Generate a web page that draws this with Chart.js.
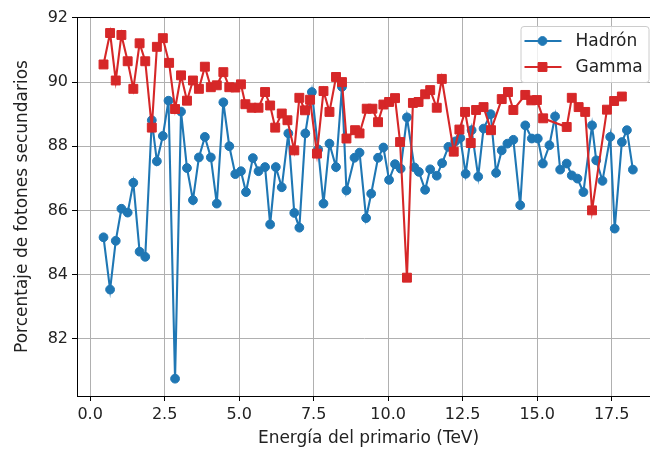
<!DOCTYPE html>
<html>
<head>
<meta charset="utf-8">
<script src="https://cdn.jsdelivr.net/npm/chart.js@4.4.0/dist/chart.umd.min.js"></script>
<style>
    html, body { margin: 0; padding: 0; background: #fff; }
    #wrap { width: 650px; height: 454px; overflow: hidden; }
</style>
</head>
<body>
<div id="wrap"><canvas id="chart" width="650" height="454"></canvas></div>
<script>
// energies (TeV) and percentages
const energiaHadron = [0.45, 0.67, 0.86, 1.05, 1.26, 1.45, 1.66, 1.85, 2.07, 2.24,
    2.44, 2.63, 2.85, 3.05, 3.25, 3.45, 3.65, 3.85, 4.05, 4.25,
    4.47, 4.67, 4.87, 5.06, 5.23, 5.46, 5.65, 5.87, 6.04, 6.23,
    6.43, 6.65, 6.85, 7.02, 7.22, 7.44, 7.65, 7.83, 8.03, 8.25,
    8.45, 8.6, 8.87, 9.04, 9.26, 9.43, 9.66, 9.84, 10.03, 10.23,
    10.42, 10.63, 10.88, 11.03, 11.24, 11.41, 11.63, 11.81, 12.02, 12.25,
    12.42, 12.6, 12.8, 13.02, 13.2, 13.44, 13.62, 13.81, 14.0, 14.2,
    14.43, 14.6, 14.82, 15.02, 15.19, 15.41, 15.6, 15.77, 15.99, 16.16,
    16.35, 16.55, 16.84, 16.98, 17.19, 17.45, 17.6, 17.84, 18.01, 18.21];
const hadron = [85.16, 83.53, 85.05, 86.05, 85.93, 86.86, 84.71, 84.55, 88.81, 87.53,
    88.32, 89.42, 80.75, 89.08, 87.32, 86.32, 87.65, 88.29, 87.65, 86.21,
    89.37, 88.0, 87.13, 87.22, 86.57, 87.63, 87.22, 87.35, 85.56, 87.35,
    86.72, 88.4, 85.92, 85.46, 88.4, 89.69, 87.9, 86.21, 88.08, 87.35,
    89.85, 86.62, 87.64, 87.8, 85.76, 86.52, 87.64, 87.96, 86.95, 87.44,
    87.3, 88.9, 87.34, 87.2, 86.64, 87.28, 87.08, 87.47, 87.98, 88.15,
    88.26, 87.14, 88.5, 87.05, 88.55, 89.0, 87.17, 87.87, 88.08, 88.2,
    86.16, 88.65, 88.24, 88.24, 87.46, 88.03, 88.93, 87.27, 87.46, 87.09,
    86.99, 86.57, 88.65, 87.56, 86.92, 88.29, 85.43, 88.13, 88.5, 87.27];

const energiaGamma = [0.45, 0.67, 0.86, 1.05, 1.26, 1.45, 1.66, 1.85, 2.07, 2.24,
    2.44, 2.65, 2.85, 3.05, 3.25, 3.45, 3.65, 3.85, 4.05, 4.25,
    4.47, 4.67, 4.87, 5.06, 5.21, 5.42, 5.65, 5.87, 6.04, 6.21,
    6.43, 6.62, 6.85, 7.02, 7.21, 7.38, 7.61, 7.83, 8.03, 8.25,
    8.45, 8.6, 8.89, 9.04, 9.28, 9.47, 9.66, 9.84, 10.03, 10.23,
    10.4, 10.63, 10.83, 11.02, 11.24, 11.41, 11.63, 11.8, 12.2, 12.39,
    12.58, 12.77, 12.95, 13.2, 13.45, 13.81, 14.02, 14.2, 14.6, 14.8,
    14.99, 15.2, 15.99, 16.16, 16.39, 16.61, 16.84, 17.34, 17.58, 17.84];
const gamma = [90.55, 91.53, 90.05, 91.47, 90.65, 89.79, 91.21, 90.65, 88.58, 91.1,
    91.37, 90.6, 89.16, 90.21, 89.42, 90.05, 89.79, 90.48, 89.84, 89.9,
    90.31, 89.84, 89.83, 89.93, 89.31, 89.2, 89.2, 89.69, 89.27, 88.58,
    89.02, 88.81, 87.87, 89.51, 89.12, 89.45, 87.77, 89.72, 89.07, 90.16,
    90.0, 88.24, 88.5, 88.4, 89.17, 89.17, 88.75, 89.3, 89.38, 89.5,
    88.13, 83.9, 89.35, 89.38, 89.62, 89.75, 89.2, 90.1, 87.83, 88.52,
    89.07, 88.1, 89.13, 89.22, 88.5, 89.47, 89.69, 89.13, 89.6, 89.43,
    89.44, 88.87, 88.6, 89.51, 89.22, 89.07, 86.0, 89.14, 89.41, 89.55];

const xTicks = [0, 2.5, 5, 7.5, 10, 12.5, 15, 17.5];
const yTicks = [82, 84, 86, 88, 90, 92];

const azul = "#1f77b4";
const rojo = "#d62728";
const fontFamily = "'DejaVu Sans'";

Chart.defaults.font.family = fontFamily;
Chart.defaults.color = "#222";

// the original axes run a little past the right edge of the picture
const extendRight = {
    id: "extendRight",
    afterLayout(chart) {
        const extra = 10;
        const xs = chart.scales.x;
        chart.chartArea.right += extra;
        chart.chartArea.width += extra;
        xs.right += extra;
        xs.width += extra;
        xs.configure();
    }
};

// top spine (matplotlib draws a full box; the right side is cut off by the picture)
const framePlugin = {
    id: "frame",
    afterDatasetsDraw(chart) {
        const { ctx, chartArea } = chart;
        ctx.save();
        ctx.strokeStyle = "#000";
        ctx.lineWidth = 1;
        ctx.beginPath();
        ctx.moveTo(chartArea.left, chartArea.top + 0.5);
        ctx.lineTo(chartArea.right, chartArea.top + 0.5);
        ctx.stroke();
        ctx.restore();
    }
};

// legend box in the upper right corner, line + marker samples
const boxLegend = {
    id: "boxLegend",
    afterDraw(chart) {
        const { ctx, chartArea } = chart;
        const w = 128, h = 56;
        const x = chartArea.right - w - 11.5, y = chartArea.top + 9;
        ctx.save();
        ctx.fillStyle = "rgba(255,255,255,0.8)";
        ctx.strokeStyle = "#cccccc";
        ctx.lineWidth = 1;
        ctx.beginPath();
        ctx.roundRect(x + 0.5, y + 0.5, w, h, 3);
        ctx.fill();
        ctx.stroke();
        chart.data.datasets.forEach((ds, i) => {
            const cy = y + 15 + i * 26;
            ctx.strokeStyle = ds.borderColor;
            ctx.lineWidth = ds.borderWidth;
            ctx.beginPath();
            ctx.moveTo(x + 4, cy);
            ctx.lineTo(x + 41, cy);
            ctx.stroke();
            ctx.fillStyle = ds.backgroundColor;
            ctx.lineWidth = ds.pointBorderWidth;
            Chart.helpers.drawPoint(ctx, {
                pointStyle: ds.pointStyle, radius: ds.pointRadius,
                rotation: 0, borderWidth: ds.pointBorderWidth
            }, x + 22, cy);
            ctx.fillStyle = "#222";
            ctx.font = "17px " + fontFamily;
            ctx.textBaseline = "middle";
            ctx.fillText(ds.label, x + 55, cy + 1);
        });
        ctx.restore();
    }
};

new Chart(document.getElementById("chart"), {
    type: "line",
    data: {
        datasets: [
            {
                label: "Hadrón",
                data: energiaHadron.map((e, i) => ({ x: e, y: hadron[i] })),
                borderColor: azul,
                backgroundColor: azul,
                borderWidth: 2.1,
                pointStyle: "circle",
                pointRadius: 4.4,
                pointBorderWidth: 1,
                tension: 0,
                order: 2
            },
            {
                label: "Gamma",
                data: energiaGamma.map((e, i) => ({ x: e, y: gamma[i] })),
                borderColor: rojo,
                backgroundColor: rojo,
                borderWidth: 2.1,
                pointStyle: "rect",
                pointRadius: 6.3,
                pointBorderWidth: 1,
                tension: 0,
                order: 1
            }
        ]
    },
    options: {
        responsive: false,
        animation: false,
        devicePixelRatio: 1,
        layout: { autoPadding: false, padding: { top: 17, right: 0, left: 0, bottom: 0 } },
        plugins: {
            legend: { display: false },
            tooltip: { enabled: false }
        },
        scales: {
            x: {
                type: "linear",
                min: -0.44,
                max: 19.12,
                afterBuildTicks: (s) => { s.ticks = xTicks.map(v => ({ value: v })); },
                afterFit: (s) => { s.height = 58; s.paddingLeft = 0; s.paddingRight = 0; },
                ticks: {
                    callback: (v) => v.toFixed(1),
                    font: { size: 16 },
                    color: "#222",
                    padding: 4,
                    maxRotation: 0
                },
                grid: { color: "#b0b0b0", lineWidth: 1, tickLength: 5, tickColor: "#000" },
                border: { display: true, color: "#000", width: 1 },
                title: {
                    display: true,
                    text: "Energía del primario (TeV)",
                    font: { size: 17 },
                    color: "#222",
                    padding: { top: 0, bottom: 5 }
                }
            },
            y: {
                type: "linear",
                min: 80.21,
                max: 92.03,
                afterBuildTicks: (s) => { s.ticks = yTicks.map(v => ({ value: v })); },
                afterFit: (s) => { s.width = 77; s.paddingTop = 0; s.paddingBottom = 0; },
                ticks: {
                    callback: (v) => String(v),
                    font: { size: 16 },
                    color: "#222",
                    padding: 4
                },
                grid: { color: "#b0b0b0", lineWidth: 1, tickLength: 5, tickColor: "#000" },
                border: { display: true, color: "#000", width: 1 },
                title: {
                    display: true,
                    text: "Porcentaje de fotones secundarios",
                    font: { size: 17 },
                    color: "#222",
                    padding: { top: 12, bottom: 0 }
                }
            }
        }
    },
    plugins: [extendRight, framePlugin, boxLegend]
});
</script>
</body>
</html>
